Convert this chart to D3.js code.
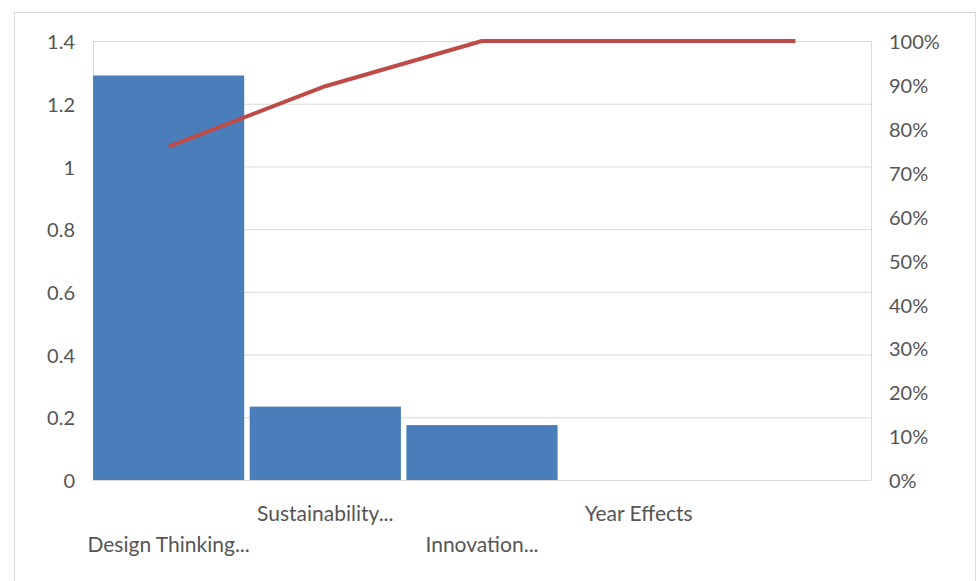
<!DOCTYPE html>
<html>
<head>
<meta charset="utf-8">
<script src="https://cdn.jsdelivr.net/npm/d3@7"></script>
<style>
  body { margin: 0; background: #fff; }
  text { font-family: Lato, "Open Sans", sans-serif; fill: #555555; }
</style>
</head>
<body>
<div id="chart"></div>
<script>
// data
const categories = ["Design Thinking...", "Sustainability...", "Innovation...", "Year Effects", ""];
const values = [1.29, 0.234, 0.175, 0, 0];
const leftTicks = [0, 0.2, 0.4, 0.6, 0.8, 1, 1.2, 1.4];
const rightTicks = [0, 0.1, 0.2, 0.3, 0.4, 0.5, 0.6, 0.7, 0.8, 0.9, 1];

// cumulative share for the pareto line
const total = d3.sum(values);
const cumulative = Array.from(d3.cumsum(values), d => d / total);

// set the dimensions and margins of the graph
const margin = {top: 41, right: 108, bottom: 101, left: 93};
const width = 979 - margin.left - margin.right;
const height = 581 - margin.top - margin.bottom;

const root = d3.select("#chart")
  .append("svg")
    .attr("width", 979)
    .attr("height", 581);

// outer chart border
root.append("rect")
    .attr("x", 14.5)
    .attr("y", 12.5)
    .attr("width", 961)
    .attr("height", 600)
    .attr("fill", "none")
    .attr("stroke", "#d9d9d9");

const svg = root.append("g")
    .attr("transform", `translate(${margin.left}, ${margin.top})`);

// scales
const xScale = d3.scaleBand()
  .domain(categories)
  .range([0, width])
  .paddingInner(0.035)
  .paddingOuter(0)
  .align(0);

const yScale = d3.scaleLinear()
  .domain([0, 1.4])
  .range([height, 0]);

const yPct = d3.scaleLinear()
  .domain([0, 1])
  .range([height, 0]);

// horizontal grid lines
svg.append("g")
    .attr("class", "grid")
  .call(d3.axisLeft(yScale).tickValues(leftTicks).tickSize(-width).tickFormat(""))
  .call(g => g.select(".domain").remove())
  .call(g => g.selectAll("line").attr("stroke", "#d9d9d9"));

// side axis lines
svg.append("line")
    .attr("x1", 0.5).attr("x2", 0.5)
    .attr("y1", 0).attr("y2", height)
    .attr("stroke", "#d9d9d9");
svg.append("line")
    .attr("x1", width + 0.5).attr("x2", width + 0.5)
    .attr("y1", 0).attr("y2", height)
    .attr("stroke", "#d9d9d9");

// bars
svg.append("g")
  .selectAll("rect")
  .data(values)
  .join("rect")
    .attr("x", (d, i) => xScale(categories[i]))
    .attr("y", d => yScale(d))
    .attr("width", xScale.bandwidth())
    .attr("height", d => height - yScale(d))
    .attr("fill", "#4a7ebb");

// pareto line
const line = d3.line()
  .x((d, i) => xScale(categories[i]) + xScale.bandwidth() / 2)
  .y(d => yPct(d));

svg.append("path")
    .datum(cumulative)
    .attr("d", line)
    .attr("fill", "none")
    .attr("stroke", "#be4b48")
    .attr("stroke-width", 4)
    .attr("stroke-linejoin", "round");

// left axis
svg.append("g")
  .call(d3.axisLeft(yScale).tickValues(leftTicks).tickSize(0).tickPadding(18).tickFormat(d3.format("~g")))
  .call(g => g.select(".domain").remove())
  .selectAll("text")
    .style("font-size", "20px")
    .attr("dy", "0.38em");

// right axis
svg.append("g")
    .attr("transform", `translate(${width},0)`)
  .call(d3.axisRight(yPct).tickValues(rightTicks).tickSize(0).tickPadding(18).tickFormat(d3.format(".0%")))
  .call(g => g.select(".domain").remove())
  .selectAll("text")
    .style("font-size", "20px")
    .attr("dy", "0.38em");

// category labels, staggered in two rows
svg.append("g")
  .selectAll("text")
  .data(categories)
  .join("text")
    .attr("x", d => xScale(d) + xScale.bandwidth() / 2)
    .attr("y", (d, i) => height + (i % 2 === 1 ? 41 : 72))
    .attr("text-anchor", "middle")
    .style("font-size", "21px")
    .text(d => d);
</script>
</body>
</html>
